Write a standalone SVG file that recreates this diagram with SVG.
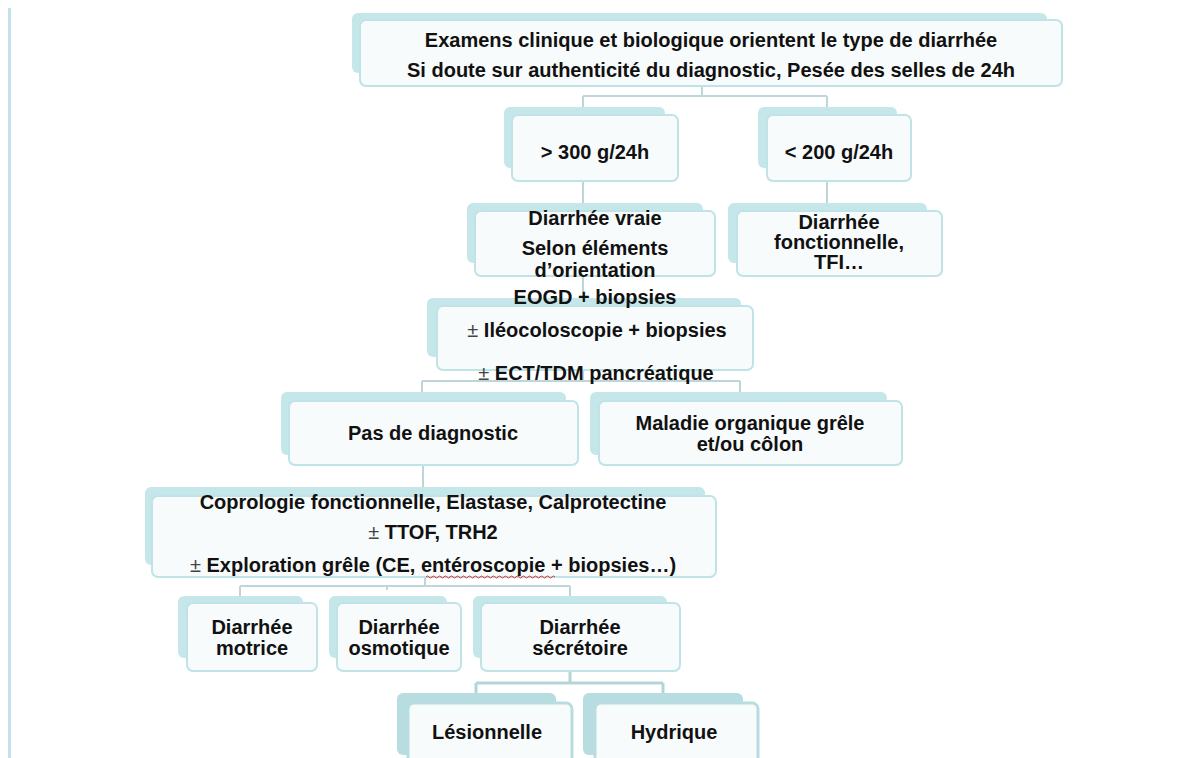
<svg xmlns="http://www.w3.org/2000/svg" width="1179" height="758" viewBox="0 0 1179 758">
<style>
.sh{fill:#c5e7ea;}
.fr{fill:#f8fbfc;stroke:#bfe3e7;stroke-width:2;}
.sh2{fill:#b7dde0;}
.fr2{fill:#f8fbfc;stroke:#b7dde0;stroke-width:3;}
.t{font-family:"Liberation Sans",Arial,sans-serif;font-weight:bold;font-size:20px;fill:#111;text-anchor:middle;}
.pm{font-weight:normal;fill:#444;}
.c{fill:none;stroke:#bcd6da;stroke-width:2;}
.c2{fill:none;stroke:#b2d5d8;stroke-width:3;}
</style>
<rect width="1179" height="758" fill="#ffffff"/>
<rect x="8" y="8" width="3" height="750" fill="#bfe3e6"/>
<g id="connectors">
<path class="c" d="M702,86V96M583,96H827M583,96V107M827,96V107"/>
<path class="c" d="M583,181V203M827,181V203"/>
<path class="c" d="M583,276V298"/>
<path class="c" d="M583,370V381M422,381H740M422,381V392M740,381V392"/>
<path class="c" d="M423,465V488"/>
<path class="c" d="M425,577V586M240,586H570M240,586V596M570,586V596M387,586V590"/>
<path class="c2" d="M570,671V683M476,683H663M476,683V693M663,683V693"/>
</g>
<g id="n1">
<rect class="sh" x="352" y="13" width="695" height="60" rx="6"/>
<rect class="fr" x="360" y="20" width="702" height="66" rx="6"/>
<text class="t" x="711" y="47">Examens clinique et biologique orientent le type de diarrhée</text>
<text class="t" x="711" y="77">Si doute sur authenticité du diagnostic, Pesée des selles de 24h</text>
</g>
<g id="n2">
<rect class="sh" x="504" y="107" width="161" height="61" rx="6"/>
<rect class="fr" x="512" y="115" width="166" height="66" rx="6"/>
<text class="t" x="595" y="159">&gt; 300 g/24h</text>
</g>
<g id="n3">
<rect class="sh" x="758" y="107" width="139" height="61" rx="6"/>
<rect class="fr" x="767" y="115" width="144" height="66" rx="6"/>
<text class="t" x="839" y="159">&lt; 200 g/24h</text>
</g>
<g id="n4">
<rect class="sh" x="467" y="203" width="236" height="60" rx="6"/>
<rect class="fr" x="475" y="211" width="240" height="65" rx="6"/>
<text class="t" x="595" y="225">Diarrhée vraie</text>
<text class="t" x="595" y="255">Selon éléments</text>
<text class="t" x="595" y="277">d’orientation</text>
</g>
<g id="n5">
<rect class="sh" x="728" y="203" width="199" height="60" rx="6"/>
<rect class="fr" x="737" y="211" width="205" height="65" rx="6"/>
<text class="t" x="839" y="229">Diarrhée</text>
<text class="t" x="839" y="249">fonctionnelle,</text>
<text class="t" x="839" y="269">TFI…</text>
</g>
<g id="n6">
<rect class="sh" x="427" y="298" width="314" height="59" rx="6"/>
<rect class="fr" x="437" y="306" width="316" height="64" rx="6"/>
<text class="t" x="595" y="304">EOGD + biopsies</text>
<text class="t" x="597" y="337"><tspan class="pm">±</tspan>  Iléocoloscopie + biopsies</text>
<text class="t" x="596" y="380"><tspan class="pm">±</tspan>  ECT/TDM pancréatique</text>
</g>
<g id="n7">
<rect class="sh" x="281" y="392" width="285" height="63" rx="6"/>
<rect class="fr" x="289" y="401" width="289" height="64" rx="6"/>
<text class="t" x="433" y="440">Pas de diagnostic</text>
</g>
<g id="n8">
<rect class="sh" x="590" y="392" width="297" height="63" rx="6"/>
<rect class="fr" x="599" y="401" width="303" height="64" rx="6"/>
<text class="t" x="750" y="430">Maladie organique grêle</text>
<text class="t" x="750" y="451">et/ou côlon</text>
</g>
<g id="n9">
<rect class="sh" x="145" y="487" width="560" height="78" rx="6"/>
<rect class="fr" x="152" y="496" width="564" height="81" rx="6"/>
<text class="t" x="433" y="509">Coprologie fonctionnelle, Elastase, Calprotectine</text>
<text class="t" x="433" y="539"><tspan class="pm">±</tspan> TTOF, TRH2</text>
<text class="t" x="433" y="572"><tspan class="pm">±</tspan> Exploration grêle (CE, entéroscopie + biopsies…)</text>
<path d="M426,577q1.5,-2 3,0t3,0t3,0t3,0t3,0t3,0t3,0t3,0t3,0t3,0t3,0t3,0t3,0t3,0t3,0t3,0t3,0t3,0t3,0t3,0t3,0t3,0t3,0t3,0t3,0t3,0t3,0t3,0t3,0t3,0t3,0t3,0t3,0t3,0t3,0t3,0t3,0t3,0t3,0t3,0t3,0t3,0t3,0" fill="none" stroke="#e03030" stroke-width="1"/>
</g>
<g id="n10">
<rect class="sh" x="178" y="596" width="125" height="62" rx="6"/>
<rect class="fr" x="187" y="603" width="130" height="68" rx="6"/>
<text class="t" x="252" y="634">Diarrhée</text>
<text class="t" x="252" y="655">motrice</text>
</g>
<g id="n11">
<rect class="sh" x="329" y="596" width="118" height="62" rx="6"/>
<rect class="fr" x="337" y="603" width="124" height="68" rx="6"/>
<text class="t" x="399" y="634">Diarrhée</text>
<text class="t" x="399" y="655">osmotique</text>
</g>
<g id="n12">
<rect class="sh" x="473" y="596" width="194" height="62" rx="6"/>
<rect class="fr" x="481" y="603" width="199" height="68" rx="6"/>
<text class="t" x="580" y="634">Diarrhée</text>
<text class="t" x="580" y="655">sécrétoire</text>
</g>
<g id="n13">
<rect class="sh2" x="397" y="693" width="159" height="62" rx="6"/>
<rect class="fr2" x="408" y="703" width="164" height="70" rx="6"/>
<text class="t" x="487" y="739">Lésionnelle</text>
</g>
<g id="n14">
<rect class="sh2" x="583" y="693" width="160" height="62" rx="6"/>
<rect class="fr2" x="595" y="703" width="163" height="70" rx="6"/>
<text class="t" x="674" y="739">Hydrique</text>
</g>
</svg>
